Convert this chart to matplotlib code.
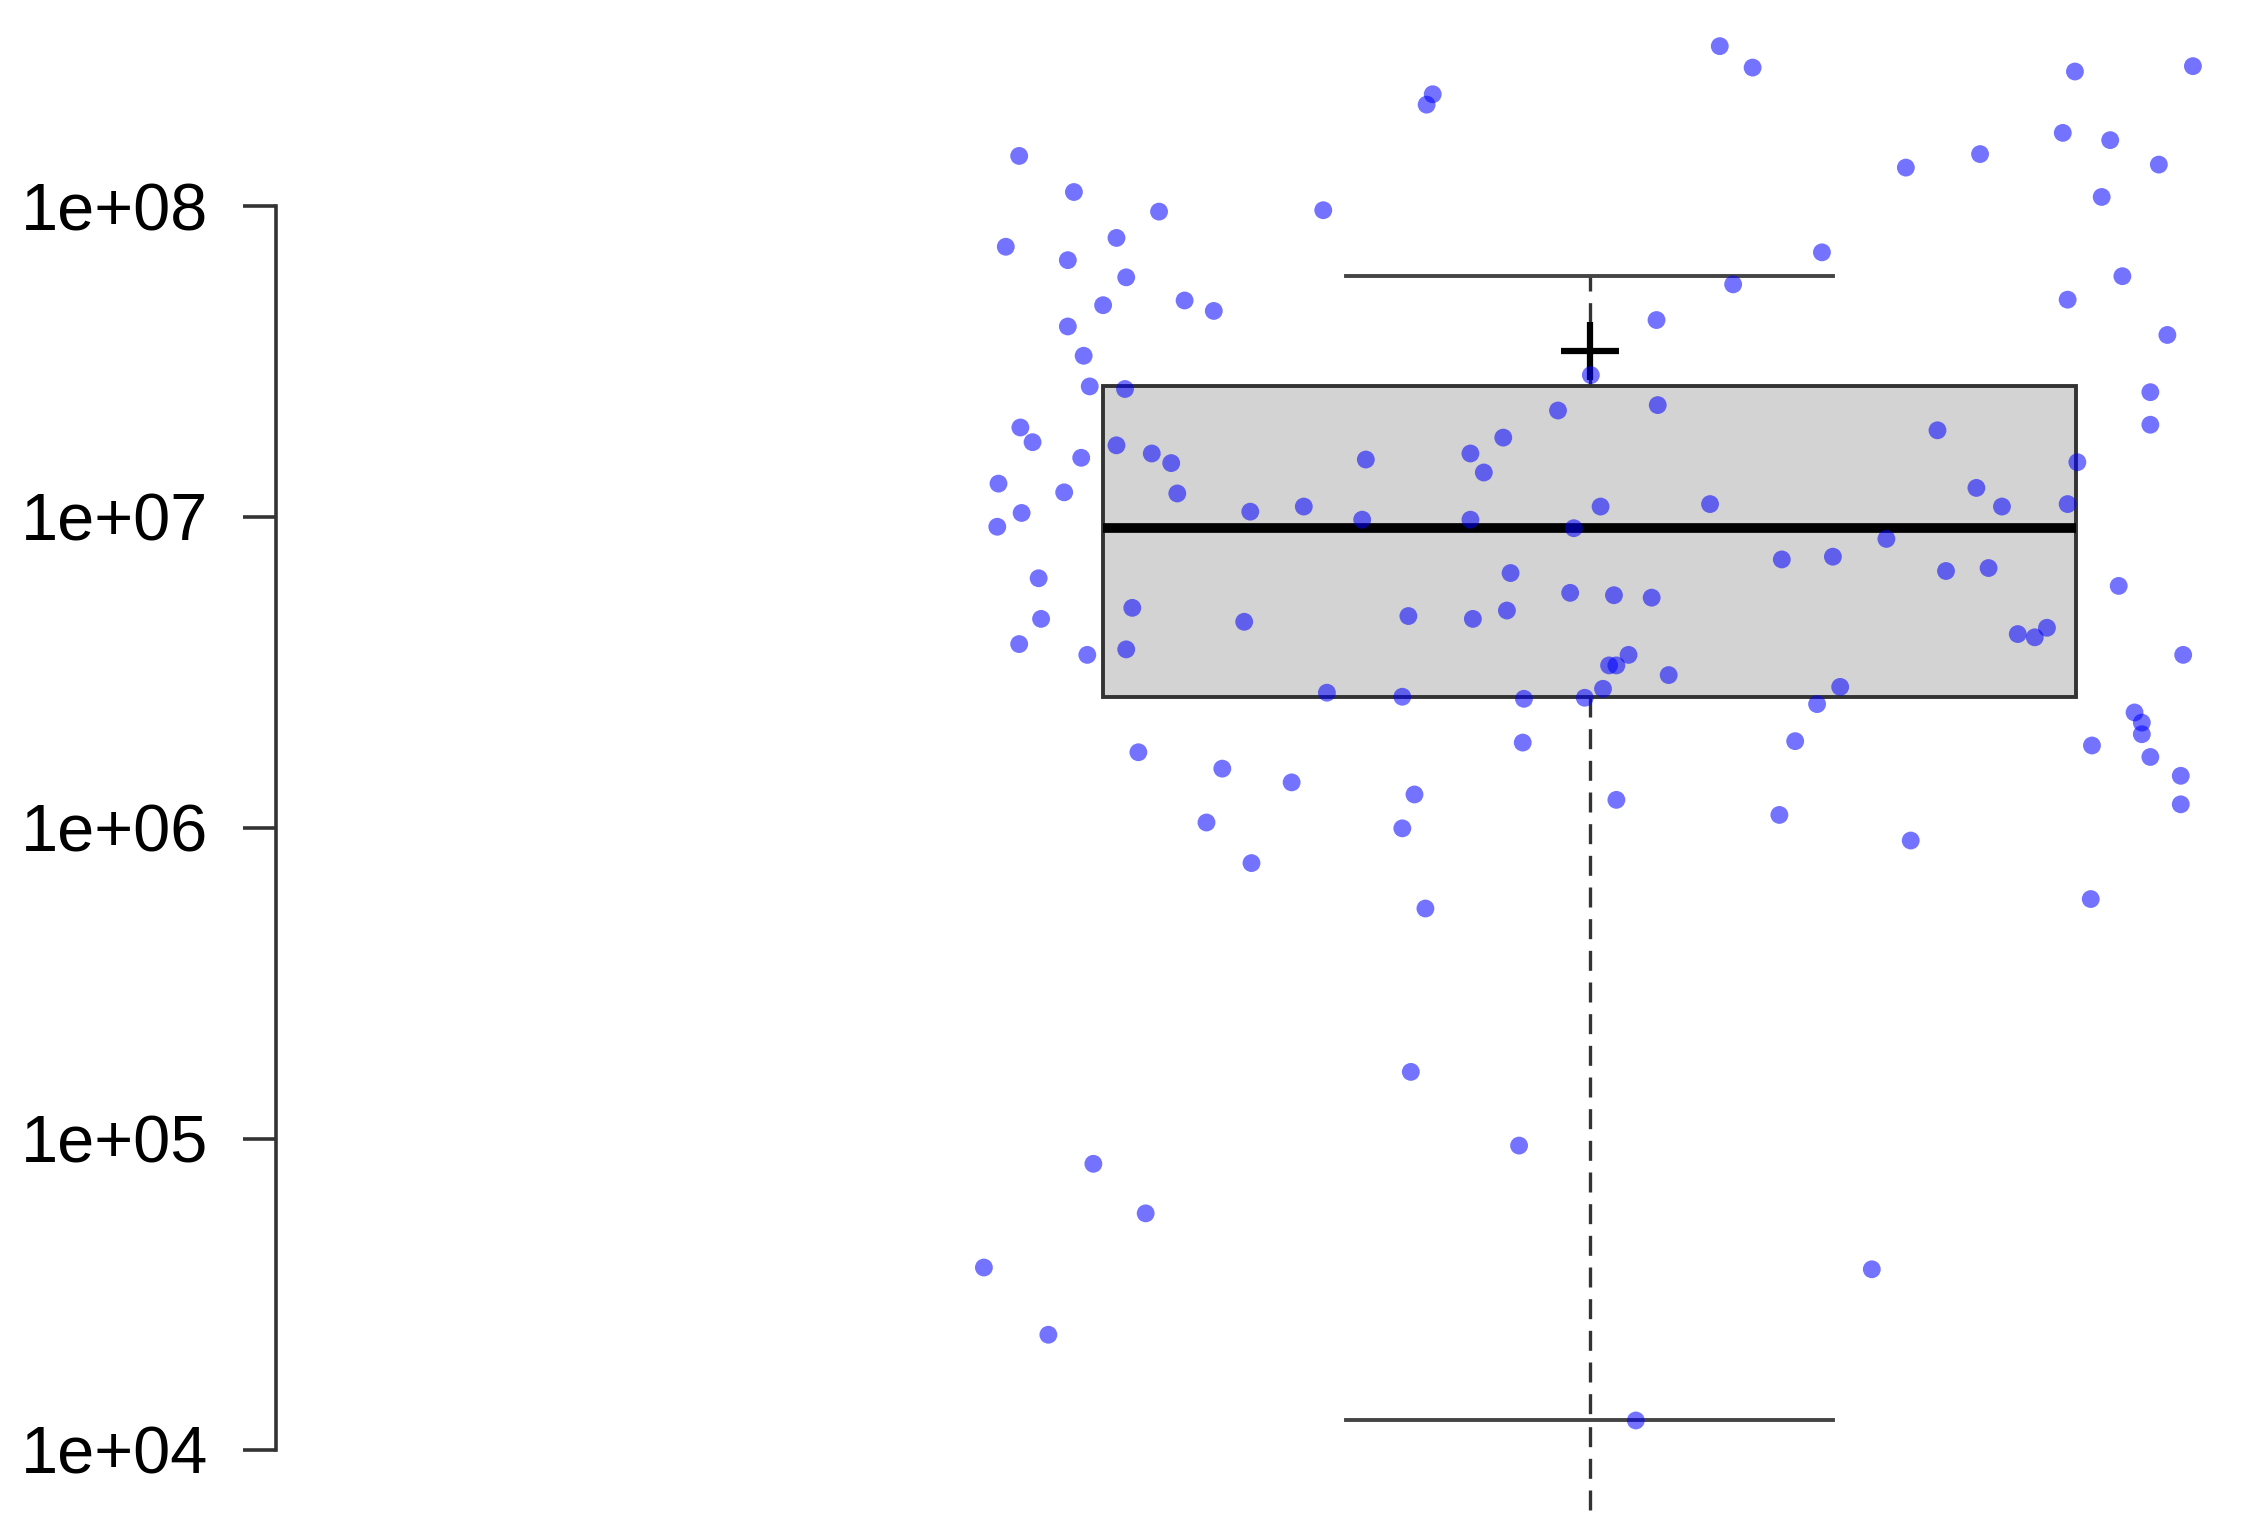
import numpy as np
import matplotlib
matplotlib.use("Agg")
import matplotlib.pyplot as plt

# valores (escala log)
valores = [
    3.27e8, 2.79e8, 2.71e8, 2.82e8, 2.29e8, 2.12e8, 1.72e8, 1.63e8, 1.45e8, 1.47e8,
    1.36e8, 1.33e8, 1.11e8, 1.07e8, 9.7e7, 9.6e7, 7.9e7, 7.4e7, 7.1e7, 6.7e7,
    5.95e7, 5.9e7, 5.6e7, 5.0e7, 4.97e7, 4.8e7, 4.6e7, 4.3e7, 4.1e7, 3.85e7,
    3.3e7, 2.86e7, 2.29e7, 2.63e7, 2.58e7, 2.2e7, 1.94e7, 1.74e7, 1.9e7, 1.98e7,
    2.52e7, 1.55e7, 1.7e7, 1.6e7, 1.49e7, 1.53e7, 1.8e7, 1.6e7, 1.39e7, 1.5e7,
    1.28e7, 1.2e7, 1.19e7, 1.24e7, 1.03e7, 1.04e7, 1.08e7, 9.8e6, 1.08e7, 1.1e7,
    1.08e7, 1.1e7, 9.3e6, 9.8e6, 9.2e6, 8.5e6, 7.3e6, 7.45e6, 6.35e6, 6.6e6,
    6.7e6, 6.85e6, 6.0e6, 5.7e6, 5.6e6, 5.5e6, 5.1e6, 5.0e6, 4.7e6, 4.6e6,
    4.8e6, 4.7e6, 4.2e6, 4.1e6, 4.4e6, 3.9e6, 3.75e6, 3.6e6, 3.6e6, 3.6e6,
    3.33e6, 3.33e6, 3.1e6, 2.8e6, 2.72e6, 2.64e6, 2.6e6, 2.62e6, 2.84e6, 2.5e6,
    2.35e6, 2.18e6, 2.0e6, 1.9e6, 1.88e6, 1.84e6, 1.75e6, 1.69e6, 1.55e6, 1.47e6,
    1.4e6, 1.28e6, 1.23e6, 1.19e6, 1.1e6, 1.04e6, 9.96e5, 9.1e5, 7.7e5, 5.9e5,
    5.5e5, 1.64e5, 8.3e4, 9.5e4, 5.75e4, 3.85e4, 3.8e4, 2.34e4, 1.24e4,
]

# desplazamiento horizontal (jitter) de cada punto respecto a x=1
jitter = [
    0.107, 0.134, 0.399, 0.496, -0.129, -0.134, 0.389, 0.428, -0.469, 0.321,
    0.468, 0.260, -0.424, 0.421, -0.219, -0.354, -0.389, -0.480, 0.191, -0.429,
    0.438, -0.381, 0.118, 0.393, -0.333, -0.400, -0.309, 0.055, -0.429, 0.475,
    -0.416, 0.001, 0.056, -0.411, -0.382, -0.026, -0.468, -0.458, 0.286, 0.461,
    0.461, -0.418, -0.389, -0.360, -0.344, -0.184, -0.071, -0.098, -0.087, 0.401,
    -0.486, -0.432, -0.339, 0.318, -0.467, -0.279, -0.235, -0.098, 0.009, 0.099,
    0.339, 0.393, -0.487, -0.187, -0.013, 0.244, 0.158, 0.200, -0.453, -0.065,
    0.293, 0.328, 0.435, -0.016, 0.020, 0.051, -0.376, -0.068, -0.451, -0.284,
    -0.149, -0.096, 0.352, 0.366, 0.376, -0.469, -0.381, -0.413, 0.032, 0.488,
    0.016, 0.022, 0.065, 0.011, -0.216, -0.154, -0.054, -0.004, 0.206, 0.187,
    0.448, 0.454, 0.454, 0.169, -0.055, 0.413, -0.371, 0.461, -0.302, 0.486,
    -0.245, -0.144, 0.022, 0.486, 0.156, -0.315, -0.154, 0.264, -0.278, 0.412,
    -0.135, -0.147, -0.408, -0.058, -0.365, -0.498, 0.232, -0.445, 0.038,
]

# estadisticos de la caja
q1 = 2.64e6
mediana = 9.2e6
q3 = 2.63e7
bigote_inf = 1.24e4
bigote_sup = 5.94e7
media = 3.43e7
cola_inf = 6.4e3

ticks = [1e4, 1e5, 1e6, 1e7, 1e8]
tick_labels = ["1e+04", "1e+05", "1e+06", "1e+07", "1e+08"]

plt.rcParams['font.family'] = ['Liberation Sans', 'DejaVu Sans']

fig = plt.figure(figsize=(22.44, 15.35), dpi=100)
ax = fig.add_axes([0.123, 0.0, 0.877, 1.0])

stats = [{
    "med": mediana, "q1": q1, "q3": q3,
    "whislo": bigote_inf, "whishi": bigote_sup,
    "mean": media, "fliers": [],
}]

ax.bxp(stats, positions=[1], widths=0.8, capwidths=0.4, patch_artist=True,
       showmeans=True, showfliers=False,
       boxprops=dict(facecolor="#d3d3d3", edgecolor="#333333", linewidth=2.8),
       medianprops=dict(color="black", linewidth=7, solid_capstyle="butt"),
       whiskerprops=dict(color="#333333", linewidth=2.4, linestyle=(0, (6, 3.5))),
       capprops=dict(color="#444444", linewidth=2.8),
       meanprops=dict(marker="+", markersize=42, markeredgewidth=4.5,
                      markeredgecolor="black"))

# el trazo discontinuo sigue por debajo del bigote inferior
ax.vlines(1, cola_inf, bigote_inf, colors="#333333", linewidth=2.4,
          linestyles=[(0, (6, 3.5))])

x = 1 + np.array(jitter)
ax.scatter(x, valores, s=165, color="blue", alpha=0.55, edgecolors="none", zorder=5)

ax.set_yscale("log")
ax.set_xlim(-0.08, 1.538)
ax.set_ylim(10 ** 3.725, 10 ** 8.663)

ax.set_yticks(ticks)
ax.set_yticklabels(tick_labels)
ax.minorticks_off()
ax.tick_params(axis="y", direction="out", length=24, width=2.6, pad=25,
               labelsize=48, color="#333333")
ax.set_xticks([])

for s in ["top", "right", "bottom"]:
    ax.spines[s].set_visible(False)
ax.spines["left"].set_bounds(1e4, 1e8)
ax.spines["left"].set_linewidth(2.6)
ax.spines["left"].set_color("#333333")

fig.savefig("out.png", dpi=100)
